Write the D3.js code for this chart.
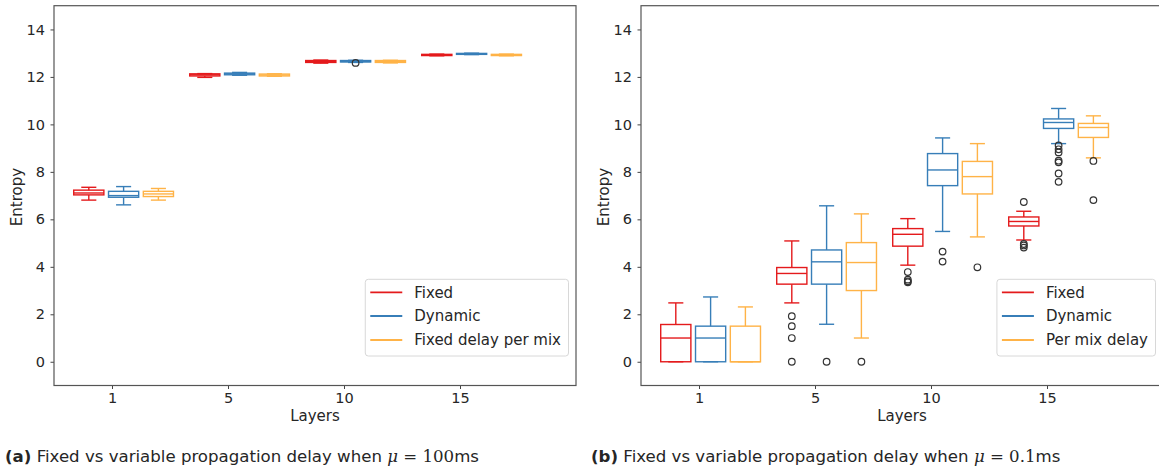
<!DOCTYPE html>
<html><head><meta charset="utf-8">
<script src="https://cdn.jsdelivr.net/npm/d3@7"></script>
<style>
body{margin:0;background:#fff}
text{font-family:"DejaVu Sans",sans-serif;fill:#262626}
</style>
</head><body><svg id="c" width="1159" height="468"></svg>
<script>
// ---------------- data ----------------
const layers = ["1", "5", "10", "15"];
const seriesA = ["Fixed", "Dynamic", "Fixed delay per mix"];
const seriesB = ["Fixed", "Dynamic", "Per mix delay"];
const yTicks = [0, 2, 4, 6, 8, 10, 12, 14];
const colors = ["#e41a1c", "#377eb8", "#ffb347"];

// box stats per layer: [lowWhisker, q1, median, q3, highWhisker]
// (a) mu = 100ms
const fixedA   = [[6.81, 7.03, 7.11, 7.23, 7.35], [11.98, 12.04, 12.09, 12.13, 12.14], [12.58, 12.61, 12.64, 12.69, 12.71], [12.89, 12.90, 12.93, 12.95, 12.96]];
const dynamicA = [[6.61, 6.93, 7.00, 7.18, 7.38], [12.07, 12.09, 12.13, 12.16, 12.19], [12.61, 12.63, 12.65, 12.69, 12.70], [12.94, 12.95, 12.97, 12.99, 13.00]];
const perMixA  = [[6.81, 6.96, 7.07, 7.18, 7.30], [12.03, 12.04, 12.08, 12.12, 12.13], [12.59, 12.61, 12.64, 12.69, 12.70], [12.89, 12.90, 12.93, 12.95, 12.96]];
const fixedOutA   = [[], [], [], []];
const dynamicOutA = [[], [], [12.59], []];
const perMixOutA  = [[], [], [], []];

// (b) mu = 0.1ms
const fixedB   = [[0, 0, 1.00, 1.57, 2.48], [2.48, 3.27, 3.72, 3.97, 5.09], [4.07, 4.87, 5.37, 5.61, 6.03], [5.13, 5.72, 5.91, 6.10, 6.34]];
const dynamicB = [[0, 0, 1.00, 1.50, 2.73], [1.58, 3.27, 4.21, 4.71, 6.57], [5.49, 7.42, 8.08, 8.77, 9.43], [9.19, 9.83, 10.08, 10.23, 10.67]];
const perMixB  = [[0, 0, 0.00, 1.50, 2.31], [1.00, 3.00, 4.18, 5.02, 6.23], [5.26, 7.07, 7.80, 8.44, 9.19], [8.59, 9.45, 9.87, 10.04, 10.36]];
const fixedOutB   = [[], [1.92, 1.50, 1.00, 0], [3.78, 3.46, 3.39, 3.35], [6.73, 4.96, 4.90, 4.81]];
const dynamicOutB = [[], [0], [4.64, 4.22], [9.11, 8.95, 8.82, 8.47, 8.40, 7.93, 7.58]];
const perMixOutB  = [[], [0], [3.98], [8.46, 6.81]];

// ---------------- drawing ----------------
const svg = d3.select("#c");
const offsets = [-0.2, 0.1, 0.4];
const boxW = 0.26;

function panel(opt) {
  const x = d3.scaleLinear().domain([-0.5, 4.0]).range([opt.x0, opt.x0 + 522]);
  const y = d3.scaleLinear().domain([-1, 15]).range([385.5, 5.7]);
  const g = svg.append("g");

  // axes
  const xa = g.append("g").attr("transform", "translate(0,385.5)")
    .call(d3.axisBottom(x).tickValues([0, 1, 2, 3]).tickFormat(i => layers[i]).tickSize(3.5).tickPadding(4));
  const ya = g.append("g").attr("transform", `translate(${opt.x0},0)`)
    .call(d3.axisLeft(y).tickValues(yTicks).tickSize(3.5).tickPadding(5.5));
  [xa, ya].forEach(a => {
    a.select(".domain").remove();
    a.selectAll("line").attr("stroke", "#444");
    a.selectAll("text").style("font-size", "14.5px").attr("fill", "#262626");
  });

  // boxes
  opt.series.forEach((stats, si) => {
    const col = colors[si];
    const sg = g.append("g").attr("stroke", col).attr("stroke-width", 1.4).attr("fill", "none");
    stats.forEach((s, li) => {
      const cx = li + offsets[si];
      const xl = x(cx - boxW / 2), xr = x(cx + boxW / 2);
      const cl = x(cx - boxW / 4), cr = x(cx + boxW / 4);
      const xc = x(cx);
      sg.append("line").attr("x1", xc).attr("x2", xc).attr("y1", y(s[0])).attr("y2", y(s[1]));
      sg.append("line").attr("x1", xc).attr("x2", xc).attr("y1", y(s[3])).attr("y2", y(s[4]));
      sg.append("line").attr("x1", cl).attr("x2", cr).attr("y1", y(s[0])).attr("y2", y(s[0]));
      sg.append("line").attr("x1", cl).attr("x2", cr).attr("y1", y(s[4])).attr("y2", y(s[4]));
      sg.append("rect").attr("x", xl).attr("width", xr - xl)
        .attr("y", y(s[3])).attr("height", Math.max(0.5, y(s[1]) - y(s[3])));
      sg.append("line").attr("x1", xl).attr("x2", xr).attr("y1", y(s[2])).attr("y2", y(s[2]));
    });
    opt.outliers[si].forEach((arr, li) => {
      const cx = li + offsets[si];
      arr.forEach(v => {
        g.append("circle").attr("cx", x(cx)).attr("cy", y(v)).attr("r", 3.3)
          .attr("fill", "none").attr("stroke", "#333").attr("stroke-width", 1.2);
      });
    });
  });

  // spines
  g.append("rect").attr("x", opt.x0).attr("y", 5.7).attr("width", 522).attr("height", 379.8)
    .attr("fill", "none").attr("stroke", "#555").attr("stroke-width", 1.2);

  // labels
  g.append("text").attr("transform", `translate(${opt.x0 - 32},197) rotate(-90)`)
    .attr("text-anchor", "middle").style("font-size", "15px").text("Entropy");
  g.append("text").attr("x", opt.x0 + 261).attr("y", 421).attr("text-anchor", "middle")
    .style("font-size", "15px").text("Layers");

  // legend
  const lg = g.append("g");
  const rows = [292.3, 316, 340];
  const texts = [];
  opt.names.forEach((n, i) => {
    texts.push(lg.append("text").attr("y", rows[i]).attr("dy", "0.35em").style("font-size", "15px").text(n));
  });
  const tw = d3.max(texts, t => t.node().getComputedTextLength());
  const bw = 49 + tw + 7.5;
  const bx = opt.x0 + 522 - 7.5 - bw;
  lg.insert("rect", ":first-child").attr("x", bx).attr("y", 279.3).attr("width", bw).attr("height", 76.7)
    .attr("rx", 3).attr("fill", "#fff").attr("fill-opacity", 0.8).attr("stroke", "#d8d8d8").attr("stroke-width", 1);
  texts.forEach(t => t.attr("x", bx + 49));
  opt.names.forEach((n, i) => {
    lg.append("line").attr("x1", bx + 5).attr("x2", bx + 37).attr("y1", rows[i]).attr("y2", rows[i])
      .attr("stroke", colors[i]).attr("stroke-width", 1.8);
  });

  // caption
  const cap = svg.append("text").attr("x", opt.capX).attr("y", 462).style("font-size", "16.6px");
  cap.append("tspan").style("font-weight", "bold").text(opt.capTag);
  cap.append("tspan").text(" Fixed vs variable propagation delay when ");
  cap.append("tspan").style("font-family", "'DejaVu Serif',serif").style("font-style", "italic").text("μ");
  cap.append("tspan").style("font-family", "'DejaVu Serif',serif").text(" = " + opt.capVal);
  cap.append("tspan").text("ms");
}

panel({x0: 54, series: [fixedA, dynamicA, perMixA], outliers: [fixedOutA, dynamicOutA, perMixOutA],
  names: seriesA, capX: 5, capTag: "(a)", capVal: "100"});
panel({x0: 641, series: [fixedB, dynamicB, perMixB], outliers: [fixedOutB, dynamicOutB, perMixOutB],
  names: seriesB, capX: 591, capTag: "(b)", capVal: "0.1"});
</script>
</body></html>
